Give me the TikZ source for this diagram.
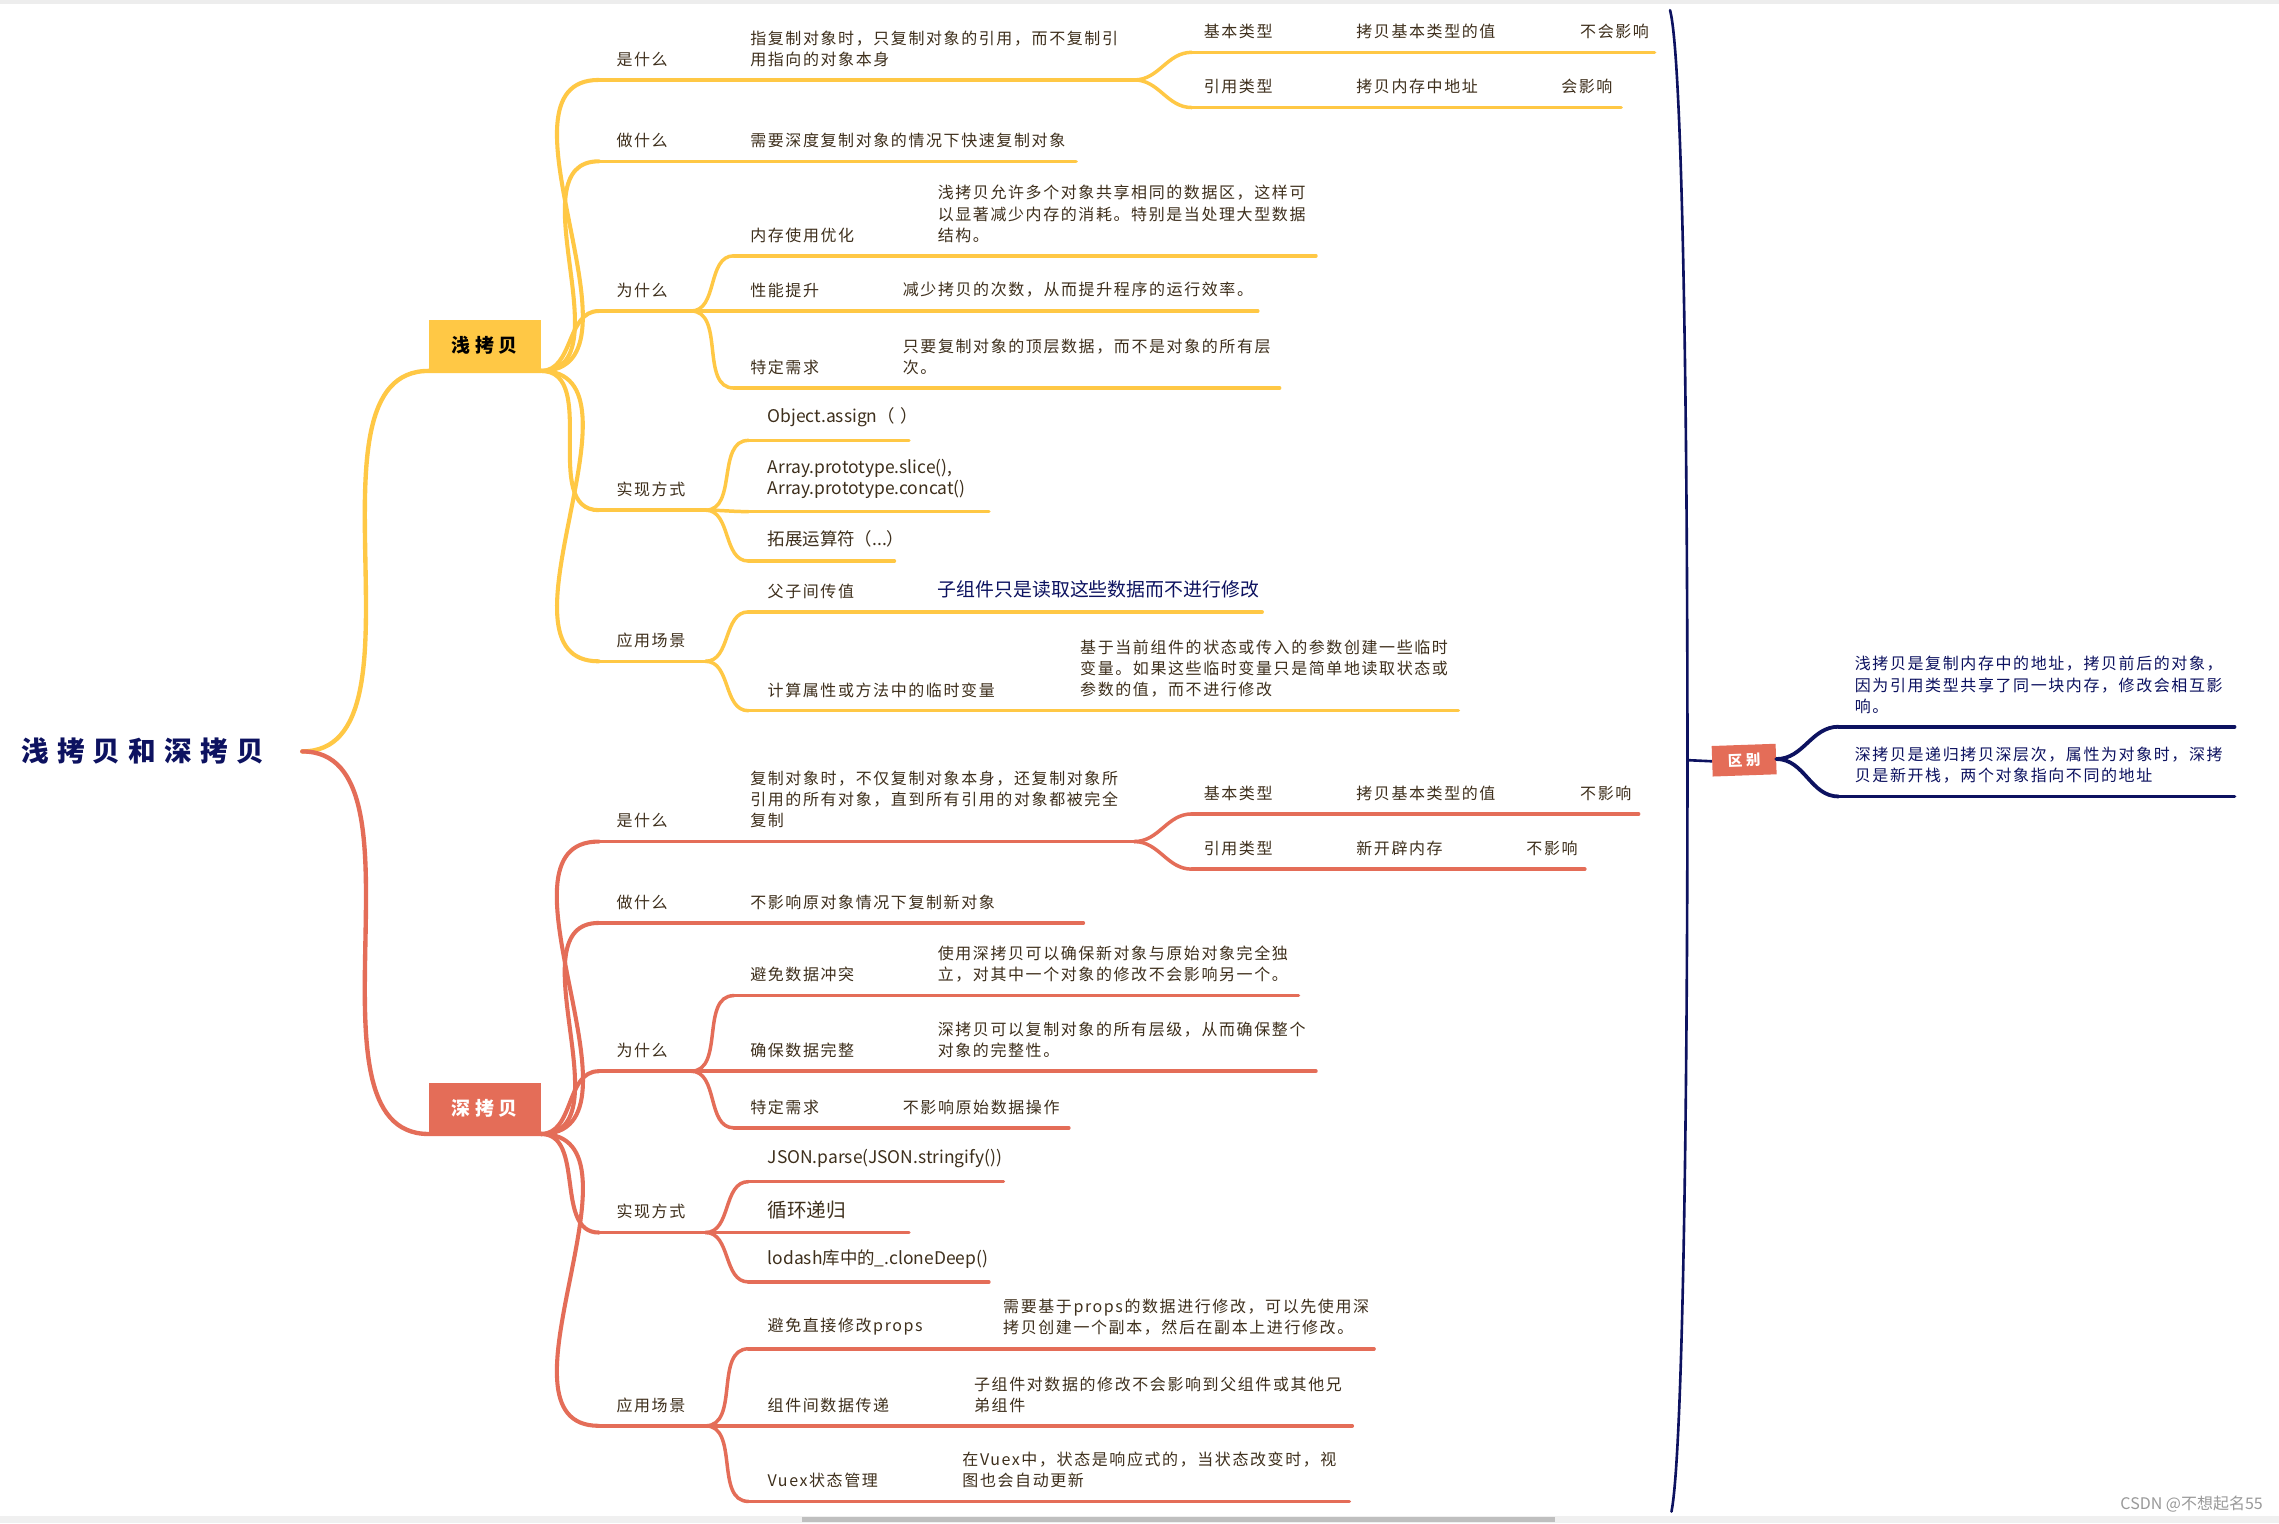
\documentclass[tikz,border=0pt]{standalone}
\usepackage{fontspec}
\setmainfont{Noto Sans CJK SC}
\newfontfamily\spfont[LetterSpace=10]{Noto Sans CJK SC}
\newfontfamily\boxfont[LetterSpace=25]{Noto Sans CJK SC}
\newfontfamily\rootfont[LetterSpace=30]{Noto Sans CJK SC}
\definecolor{yel}{HTML}{FFC845}
\definecolor{rust}{HTML}{E46D58}
\definecolor{navy}{HTML}{0D1260}
\definecolor{ink}{HTML}{3E2F1C}

\begin{document}
\begin{tikzpicture}[
  x=1pt, y=-1pt,
  it/.style={anchor=south west, inner xsep=0pt, inner ysep=9pt, align=left, text=ink, font=\spfont\fontsize{11}{14.5}\selectfont},
  latin/.style={it, font=\fontsize{12}{14.5}\selectfont},
  lpad/.style={execute at begin node={\leftskip=#1pt\relax}},
  topbox/.style={minimum width=77pt, minimum height=35pt, inner sep=0pt, font=\boxfont\bfseries\fontsize{13}{15}\selectfont},
  yline/.style={draw=yel, line width=2.4pt, line cap=round},
  rline/.style={draw=rust, line width=2.4pt, line cap=round},
  nline/.style={draw=navy, line width=2.6pt, line cap=round}
]
  \useasboundingbox (0,0) rectangle (1568,1048);
  \fill[white] (0,0) rectangle (1568,1048);
  \fill[black!7] (0,0) rectangle (1568,3);
  \fill[black!6] (0,1043) rectangle (1568,1048);
  \fill[black!25] (552,1044) rectangle (1070,1047);

  % root and the two main topics
  \node[anchor=east, inner xsep=26pt, text=navy, font=\rootfont\bfseries\fontsize{19}{21}\selectfont] (root) at (208,517) {浅拷贝和深拷贝};
  \node[topbox, fill=yel] (sh) at (333.5,237.5) {浅拷贝};
  \node[topbox, fill=rust, text=white] (dp) at (333.5,762.5) {深拷贝};

  \draw[yline, line width=3pt] (root.east) to[out=0,in=180,looseness=0.85] (sh.south west) -- (sh.south east);
  \draw[rline, line width=3pt] (root.east) to[out=0,in=180,looseness=0.85] (dp.south west) -- (dp.south east);

  % shallow copy
  \node[it, text width=73pt, lpad=12] (sw) at (412,55) {是什么};
  \node[it, text width=73pt, lpad=12] (sd) at (412,111) {做什么};
  \node[it, text width=63pt, lpad=12] (sy) at (412,214) {为什么};
  \node[it, text width=73pt, lpad=12] (sm) at (412,351) {实现方式};
  \node[it, text width=73pt, lpad=12] (sa) at (412,455) {应用场景};

  \node[it, text width=295pt, lpad=31] (sw1) at (485,55) {指复制对象时，只复制对象的引用，而不复制引\\用指向的对象本身};
  \node[it, text width=85pt, lpad=8] (swa1) at (820,36) {基本类型};
  \node[it, text width=130pt, lpad=28] (swa2) at (905,36) {拷贝基本类型的值};
  \node[it, text width=103pt, lpad=52] (swa3) at (1035,36) {不会影响};
  \node[it, text width=85pt, lpad=8] (swb1) at (820,74) {引用类型};
  \node[it, text width=130pt, lpad=28] (swb2) at (905,74) {拷贝内存中地址};
  \node[it, text width=80pt, lpad=39] (swb3) at (1035,74) {会影响};
  \node[it, text width=255pt, lpad=31] (sd1) at (485,111) {需要深度复制对象的情况下快速复制对象};
  \node[it, text width=135pt, lpad=11] (sy1) at (505,176) {内存使用优化};
  \node[it, text width=265pt, lpad=5] (sy1c) at (640,176) {浅拷贝允许多个对象共享相同的数据区，这样可\\以显著减少内存的消耗。特别是当处理大型数据\\结构。};
  \node[it, text width=110pt, lpad=11] (sy2) at (505,214) {性能提升};
  \node[it, text width=250pt, lpad=6] (sy2c) at (615,214) {减少拷贝的次数，从而提升程序的运行效率。};
  \node[it, text width=110pt, lpad=11] (sy3) at (505,267) {特定需求};
  \node[it, text width=265pt, lpad=6] (sy3c) at (615,267) {只要复制对象的顶层数据，而不是对象的所有层\\次。};
  \node[latin, text width=110pt, lpad=13] (sm1) at (515,303) {Object.assign（~）};
  \node[latin, text width=165pt, lpad=13] (sm2) at (515,352) {Array.prototype.slice(),\\Array.prototype.concat()};
  \node[latin, text width=100pt, lpad=13] (sm3) at (515,386) {拓展运算符（...）};
  \node[it, text width=125pt, lpad=13] (sa1) at (515,421) {父子间传值};
  \node[it, text width=228pt, lpad=5, text=navy, font=\fontsize{13}{15}\selectfont] (sa1c) at (640,421) {子组件只是读取这些数据而不进行修改};
  \node[it, text width=220pt, lpad=13] (sa2) at (515,489) {计算属性或方法中的临时变量};
  \node[it, text width=268pt, lpad=8] (sa2c) at (735,489) {基于当前组件的状态或传入的参数创建一些临时\\变量。如果这些临时变量只是简单地读取状态或\\参数的值，而不进行修改};

  \foreach \n in {sw,sd,sy,sm,sa}
    \draw[yline, line width=2.8pt] (sh.south east) to[out=0,in=180] (\n.south west);
  \foreach \n in {swa1,swb1}
    \draw[yline] (sw1.south east) to[out=0,in=180] (\n.south west);
  \foreach \n in {sy1,sy2,sy3}
    \draw[yline] (sy.south east) to[out=0,in=180] (\n.south west);
  \foreach \n in {sm1,sm2,sm3}
    \draw[yline] (sm.south east) to[out=0,in=180] (\n.south west);
  \foreach \n in {sa1,sa2}
    \draw[yline] (sa.south east) to[out=0,in=180] (\n.south west);
  \foreach \n in {sw,sd,sy,sm,sa,sw1,swa1,swa2,swa3,swb1,swb2,swb3,sd1,sy1,sy1c,sy2,sy2c,sy3,sy3c,sm1,sm2,sm3,sa1,sa1c,sa2,sa2c}
    \draw[yline] (\n.south west) -- (\n.south east);

  % deep copy
  \node[it, text width=73pt, lpad=12] (dw) at (412,579) {是什么};
  \node[it, text width=73pt, lpad=12] (dd) at (412,635) {做什么};
  \node[it, text width=63pt, lpad=12] (dy) at (412,737) {为什么};
  \node[it, text width=73pt, lpad=12] (dm) at (412,848) {实现方式};
  \node[it, text width=73pt, lpad=12] (da) at (412,981) {应用场景};

  \node[it, text width=295pt, lpad=31] (dw1) at (485,579) {复制对象时，不仅复制对象本身，还复制对象所\\引用的所有对象，直到所有引用的对象都被完全\\复制};
  \node[it, text width=85pt, lpad=8] (dwa1) at (820,560) {基本类型};
  \node[it, text width=130pt, lpad=28] (dwa2) at (905,560) {拷贝基本类型的值};
  \node[it, text width=92pt, lpad=52] (dwa3) at (1035,560) {不影响};
  \node[it, text width=85pt, lpad=8] (dwb1) at (820,598) {引用类型};
  \node[it, text width=95pt, lpad=28] (dwb2) at (905,598) {新开辟内存};
  \node[it, text width=90pt, lpad=50] (dwb3) at (1000,598) {不影响};
  \node[it, text width=260pt, lpad=31] (dd1) at (485,635) {不影响原对象情况下复制新对象};
  \node[it, text width=135pt, lpad=11] (dy1) at (505,685) {避免数据冲突};
  \node[it, text width=253pt, lpad=5] (dy1c) at (640,685) {使用深拷贝可以确保新对象与原始对象完全独\\立，对其中一个对象的修改不会影响另一个。};
  \node[it, text width=135pt, lpad=11] (dy2) at (505,737) {确保数据完整};
  \node[it, text width=265pt, lpad=5] (dy2c) at (640,737) {深拷贝可以复制对象的所有层级，从而确保整个\\对象的完整性。};
  \node[it, text width=110pt, lpad=11] (dy3) at (505,776) {特定需求};
  \node[it, text width=120pt, lpad=6] (dy3c) at (615,776) {不影响原始数据操作};
  \node[latin, text width=175pt, lpad=13] (dm1) at (515,813) {JSON.parse(JSON.stringify())};
  \node[latin, text width=110pt, lpad=13, font=\fontsize{13.5}{15}\selectfont] (dm2) at (515,848) {循环递归};
  \node[latin, text width=165pt, lpad=13] (dm3) at (515,882) {lodash库中的\_.cloneDeep()};
  \node[it, text width=170pt, lpad=13] (da1) at (515,928) {避免直接修改props};
  \node[it, text width=260pt, lpad=5] (da1c) at (685,928) {需要基于props的数据进行修改，可以先使用深\\拷贝创建一个副本，然后在副本上进行修改。};
  \node[it, text width=150pt, lpad=13] (da2) at (515,981) {组件间数据传递};
  \node[it, text width=265pt, lpad=5] (da2c) at (665,981) {子组件对数据的修改不会影响到父组件或其他兄\\弟组件};
  \node[it, text width=140pt, lpad=13] (da3) at (515,1033) {Vuex状态管理};
  \node[it, text width=273pt, lpad=7] (da3c) at (655,1033) {在Vuex中，状态是响应式的，当状态改变时，视\\图也会自动更新};

  \foreach \n in {dw,dd,dy,dm,da}
    \draw[rline, line width=2.8pt] (dp.south east) to[out=0,in=180] (\n.south west);
  \foreach \n in {dwa1,dwb1}
    \draw[rline] (dw1.south east) to[out=0,in=180] (\n.south west);
  \foreach \n in {dy1,dy2,dy3}
    \draw[rline] (dy.south east) to[out=0,in=180] (\n.south west);
  \foreach \n in {dm1,dm2,dm3}
    \draw[rline] (dm.south east) to[out=0,in=180] (\n.south west);
  \foreach \n in {da1,da2,da3}
    \draw[rline] (da.south east) to[out=0,in=180] (\n.south west);
  \foreach \n in {dw,dd,dy,dm,da,dw1,dwa1,dwa2,dwa3,dwb1,dwb2,dwb3,dd1,dy1,dy1c,dy2,dy2c,dy3,dy3c,dm1,dm2,dm3,da1,da1c,da2,da2c,da3,da3c}
    \draw[rline] (\n.south west) -- (\n.south east);

  % difference
  \coordinate (bt) at (1149,7);
  \coordinate (bm) at (1161,523);
  \coordinate (bb) at (1150,1040);
  \node[topbox, minimum width=44pt, minimum height=21pt, fill=rust, text=white, font=\boxfont\bfseries\fontsize{10}{12}\selectfont, rotate=2] (qb) at (1200,523) {区别};
  \node[it, text=navy, text width=272pt, lpad=11] (qd1) at (1265,500) {浅拷贝是复制内存中的地址，拷贝前后的对象，\\因为引用类型共享了同一块内存，修改会相互影\\响。};
  \node[it, text=navy, text width=272pt, lpad=11] (qd2) at (1265,548) {深拷贝是递归拷贝深层次，属性为对象时，深拷\\贝是新开栈，两个对象指向不同的地址};

  \draw[navy, line width=1.8pt, line cap=round] (bt) .. controls (1158,40) and (1161,300) .. (bm) .. controls (1161,750) and (1158,1000) .. (bb);
  \draw[navy, line width=1.8pt] (bm) -- (qb.west);
  \foreach \n in {qd1,qd2}
    \draw[nline] (qb.east) to[out=0,in=180] (\n.south west);
  \foreach \n in {qd1,qd2}
    \draw[nline] (\n.south west) -- (\n.south east);

  \node[anchor=east, inner sep=0pt, text=black!40, font=\fontsize{11}{13}\selectfont] (wm) at (1557,1035) {CSDN @不想起名55};
\end{tikzpicture}
\end{document}
